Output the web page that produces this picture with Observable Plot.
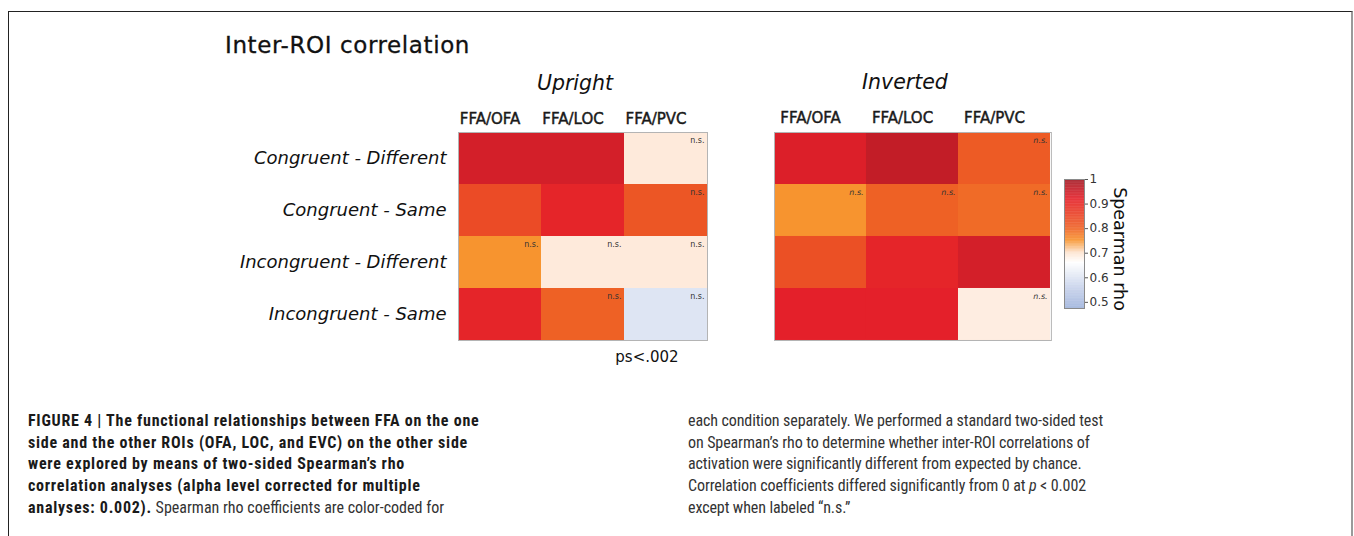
<!DOCTYPE html>
<html><head><meta charset="utf-8">
<script src="https://cdn.jsdelivr.net/npm/d3@7"></script>
<script src="https://cdn.jsdelivr.net/npm/@observablehq/plot@0.6"></script>
<style>
body{margin:0;background:#fff;}
#wrap{position:relative;width:1354px;height:536px;overflow:hidden;background:#fff;}
#border{position:absolute;left:8px;top:11px;width:1342px;height:600px;border-left:1.5px solid #222;border-top:1.5px solid #222;border-right:2px solid #9a9a9a;}
#title{position:absolute;left:225px;top:32px;font-family:"DejaVu Sans";font-size:23px;letter-spacing:0.6px;color:#111;white-space:nowrap;-webkit-text-stroke:0.3px #111;}
.p{position:absolute;}
.p g[aria-label="x-axis tick label"] text{stroke:#1a1a1a;stroke-width:0.45px;}
.cap{position:absolute;top:410px;font-family:"Roboto Condensed","Liberation Sans Narrow","Liberation Sans",sans-serif;font-stretch:condensed;font-size:16px;line-height:21.7px;color:#333;white-space:nowrap;}
.cap b{color:#1a1a1a;letter-spacing:0.75px;}
</style></head>
<body><div id="wrap">
<div id="border"></div>
<div id="title">Inter-ROI correlation</div>
<div id="up" class="p"></div>
<div id="inv" class="p"></div>
<div id="cb" class="p"></div>
<div class="cap" style="left:28px;"><b>FIGURE 4 | The functional relationships between FFA on the one<br>side and the other ROIs (OFA, LOC, and EVC) on the other side<br>were explored by means of two-sided Spearman’s rho<br>correlation analyses (alpha level corrected for multiple<br>analyses: 0.002).</b> Spearman rho coefficients are color-coded for</div>
<div class="cap" style="left:688px;letter-spacing:-0.1px;">each condition separately. We performed a standard two-sided test<br>on Spearman’s rho to determine whether inter-ROI correlations of<br>activation were significantly different from expected by chance.<br>Correlation coefficients differed significantly from 0 at <i>p</i> &lt; 0.002<br>except when labeled “n.s.”</div>
</div>
<script>
const conditions = ["Congruent - Different","Congruent - Same","Incongruent - Different","Incongruent - Same"];
const pairs = ["FFA/OFA","FFA/LOC","FFA/PVC"];
const uprightRho = [[0.94,0.94,0.69],[0.84,0.91,0.82],[0.75,0.69,0.69],[0.91,0.80,0.60]];
const uprightNS  = [[0,0,1],[0,0,1],[1,1,1],[0,1,1]];
const invertedRho = [[0.93,0.96,0.81],[0.75,0.80,0.79],[0.83,0.91,0.94],[0.92,0.92,0.685]];
const invertedNS  = [[0,0,1],[1,1,1],[0,0,0],[0,0,1]];
const colorTicks = [0.5,0.6,0.7,0.8,0.9,1];
const colorStops = [0.475,0.55,0.66,0.70,0.75,0.80,0.87,0.92,1.0];
const colorRange = ["#9fb3dc","#c3cfe9","#ffffff","#fde3cf","#f7942f","#ee6125","#e83a26","#e4202a","#a01a24"];

function table(rho, ns){
  const out=[];
  conditions.forEach((c,i)=>pairs.forEach((p,j)=>out.push({cond:c,pair:p,rho:rho[i][j],ns:!!ns[i][j]})));
  return out;
}
const upData = table(uprightRho, uprightNS);
const invData = table(invertedRho, invertedNS);
const colorOpt = {type:"linear", domain: colorStops, range: colorRange, clamp:true};
const font = {fontFamily:"DejaVu Sans", color:"#111", background:"transparent", overflow:"visible"};

function heat(data, opts){
  const cw = opts.cellW, ch = 52;
  return Plot.plot({
    width: opts.marginLeft + 3*cw + 10, height: 70 + 4*ch + 40,
    marginLeft: opts.marginLeft, marginRight: 10, marginTop: 70, marginBottom: 40,
    style: font,
    x: {domain: pairs, padding: 0},
    y: {domain: conditions, padding: 0},
    color: colorOpt,
    marks: [
      Plot.cell(data, {x:"pair", y:"cond", fill:"rho", inset:0}),
      Plot.frame({stroke:"#b4b4b4", strokeWidth:1}),
      Plot.text(data.filter(d=>d.ns), {x:"pair", y:"cond", text:()=>"n.s.", textAnchor:"end", dx: cw/2-3, dy: -ch/2+8, fontSize:8, fontStyle: opts.nsItalic?"italic":"normal", fill:"#333"}),
      Plot.axisX({anchor:"top", tickSize:0, tickPadding:9, fontSize:15, dx:-10, label:null, fill:"#1a1a1a"}),
      opts.rowLabels ? Plot.axisY({tickSize:0, tickPadding:12, fontSize:18, fontStyle:"italic", label:null}) : Plot.axisY({ticks:[], label:null, tickSize:0}),
      Plot.text([opts.title], {frameAnchor:"top", dy:-43, dx:-8, fontSize:20.5, fontStyle:"italic", lineAnchor:"bottom"}),
      ...(opts.note ? [Plot.text([opts.note], {frameAnchor:"bottom", dx:64, dy:17, fontSize:15, lineAnchor:"middle"})] : [])
    ]
  });
}

const up = heat(upData, {cellW:83, marginLeft:250, rowLabels:true, title:"Upright", note:"ps<.002", nsItalic:false});
const upDiv = document.getElementById("up");
upDiv.style.left = (458-250)+"px"; upDiv.style.top = (132-70)+"px";
upDiv.appendChild(up);

const inv = heat(invData, {cellW:92.3, marginLeft:10, rowLabels:false, title:"Inverted", nsItalic:true});
const invDiv = document.getElementById("inv");
invDiv.style.left = (774-10)+"px"; invDiv.style.top = (132-70)+"px";
invDiv.appendChild(inv);

// vertical colour bar
const step = 0.0025;
const ramp = d3.range(colorStops[0], 1.0, step);
const cb = Plot.plot({
  width: 100, height: 149, marginLeft:10, marginRight:70, marginTop:10, marginBottom:10,
  style: font,
  x: {domain:[0,1], axis:null},
  y: {domain:[colorStops[0], 1.0]},
  color: colorOpt,
  marks: [
    Plot.rect(ramp, {x1:()=>0, x2:()=>1, y1:d=>d, y2:d=>Math.min(1, d+step+0.0008), fill:d=>d}),
    Plot.frame({stroke:"#8a8a8a", strokeWidth:1}),
    Plot.axisY({anchor:"right", ticks: colorTicks, tickSize:3, tickPadding:2, fontSize:12, tickFormat:d=>String(d), label:null, stroke:"#555", fill:"#333"}),
    Plot.text(["Spearman rho"], {frameAnchor:"right", textAnchor:"middle", lineAnchor:"middle", rotate:90, dx:35, dy:5, fontSize:17.5, fill:"#111"})
  ]
});
const cbDiv = document.getElementById("cb");
cbDiv.style.left = (1064-10)+"px"; cbDiv.style.top = (179-10)+"px";
cbDiv.appendChild(cb);
</script>
</body></html>
